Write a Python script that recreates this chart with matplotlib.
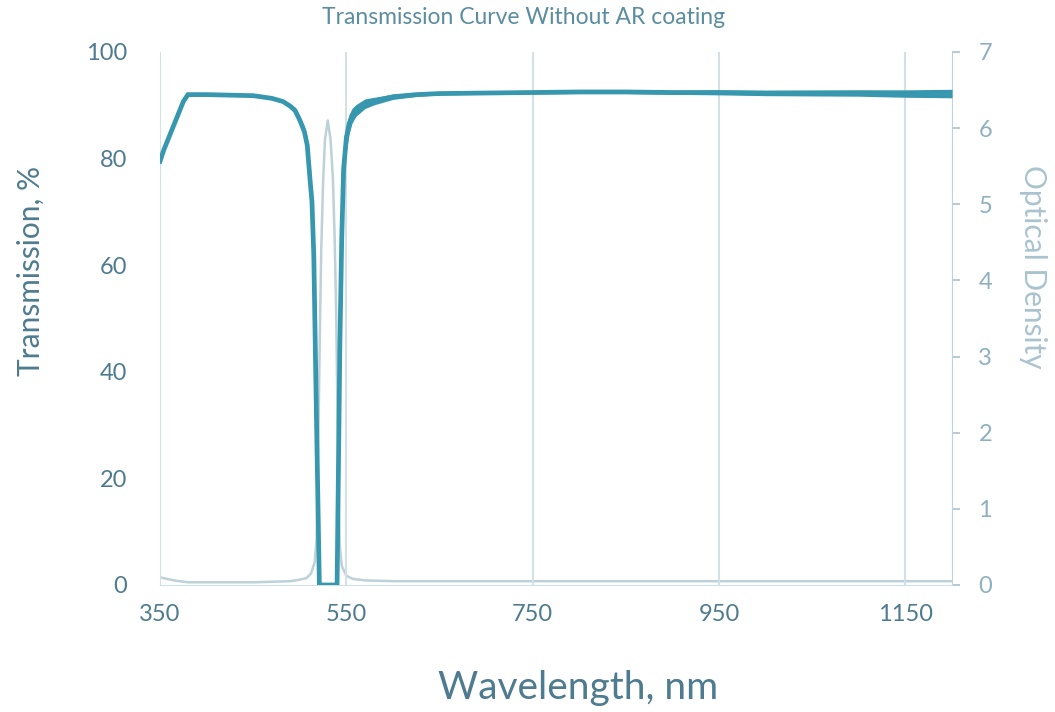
#!/usr/bin/env python3
import numpy as np
import matplotlib.pyplot as plt

plt.rcParams['font.family'] = ['Lato', 'DejaVu Sans']

# transmission (centre of the noisy band and its half thickness)
wl_t = [350, 354, 375, 380, 400, 450, 470, 482, 490, 495, 500, 505, 508, 511,
        513, 515, 518, 521, 540, 543, 545, 547, 550, 553, 556, 560, 570, 580,
        590, 600, 625, 650, 700, 750, 800, 850, 900, 950, 1000, 1050, 1100,
        1150, 1200]
trans = [79.5, 81.6, 90.7, 92.0, 92.0, 91.8, 91.3, 90.7, 89.8, 89.0, 87.2, 85.0,
         82.5, 76.0, 72.0, 62.0, 30.0, 0.0, 0.0, 45.0, 65.0, 78.0, 84.0, 86.5,
         88.0, 89.0, 90.3, 90.8, 91.2, 91.6, 92.0, 92.2, 92.3, 92.4, 92.5, 92.5,
         92.4, 92.4, 92.3, 92.3, 92.3, 92.2, 92.2]
ripple = [0, 0, 0, 0, 0, 0, 0, 0.2, 0.4, 0.6, 0.8, 1.0, 1.2, 1.5, 1.5, 1.0, 0,
          0, 0, 0, 2.5, 2.5, 2.5, 1.8, 1.4, 1.1, 0.9, 0.7, 0.6, 0.5, 0.35, 0.25,
          0.25, 0.3, 0.3, 0.3, 0.35, 0.45, 0.5, 0.55, 0.6, 0.7, 0.8]

# optical density
wl_od = [350, 365, 380, 450, 490, 500, 507, 512, 516, 518, 520, 521.5, 523, 525,
         527, 530, 533, 535.5, 537.5, 539, 540.5, 542, 543, 545, 550, 557, 570,
         600, 1200]
od = [0.10, 0.06, 0.035, 0.035, 0.05, 0.07, 0.09, 0.15, 0.3, 0.6, 2.0, 3.3, 4.4,
      5.3, 5.85, 6.1, 5.85, 5.35, 4.5, 3.6, 2.2, 0.9, 0.5, 0.25, 0.12, 0.08,
      0.06, 0.05, 0.05]

x_ticks = [350, 550, 750, 950, 1150]

teal = '#3797ae'
od_col = '#bdd1d9'
txt = '#4e7b8f'
light = '#8fb0c0'
grid = '#d3e0e6'

fig = plt.figure(figsize=(10.55, 7.12), dpi=100)
ax = fig.add_axes([0.1517, 0.1784, 0.7507, 0.7486])
ax2 = ax.twinx()

ax2.plot(wl_od, od, color=od_col, lw=1.8, zorder=1)

t = np.array(trans)
r = np.array(ripple)
ax.fill_between(wl_t, t - r, t + r, color=teal, lw=0, zorder=3)
ax.plot(wl_t, t, color=teal, lw=3.4, zorder=4, solid_joinstyle='miter')
ax.set_zorder(ax2.get_zorder() + 1)
ax.patch.set_visible(False)

ax.set_xlim(350, 1200)
ax.set_ylim(0, 100)
ax2.set_ylim(0, 7)
ax.set_xticks(x_ticks)
ax.set_yticks(range(0, 101, 20))
ax2.set_yticks(range(0, 8))

for a in (ax, ax2):
    for s in a.spines.values():
        s.set_visible(False)
ax.spines['left'].set_visible(True)
ax.spines['left'].set_color(grid)
ax.spines['bottom'].set_visible(True)
ax.spines['bottom'].set_color(grid)
ax2.spines['right'].set_visible(True)
ax2.spines['right'].set_color('#bfd2db')

for xv in x_ticks[1:]:
    ax.axvline(xv, color=grid, lw=1.5, zorder=0)

ax.tick_params(axis='y', left=False, right=False, pad=20, labelsize=17,
               labelcolor=txt)
ax.tick_params(axis='x', length=0, pad=14, labelsize=17, labelcolor=txt)
ax2.yaxis.set_tick_params(which='major', right=True, direction='out',
                          length=6, width=1.2, color='#a9c2ce', pad=13,
                          labelsize=17, labelcolor=light)

# axis titles placed by pixel position as in the reference
W, H = 1055, 712
fig.text(31 / W, 1 - 271 / H, 'Transmission, %', fontsize=21.5, color=txt,
         rotation=90, ha='center', va='center')
fig.text(1033 / W, 1 - 267 / H, 'Optical Density', fontsize=21.5,
         color='#a9c3cf', rotation=270, ha='center', va='center')
fig.text(578 / W, 1 - 688 / H, 'Wavelength, nm', fontsize=28, color=txt,
         ha='center', va='center')
fig.text(524 / W, 1 - 17 / H, 'Transmission Curve Without AR coating',
         fontsize=16.5, color='#5a8da0', ha='center', va='center')

fig.savefig('out.png', dpi=100)
